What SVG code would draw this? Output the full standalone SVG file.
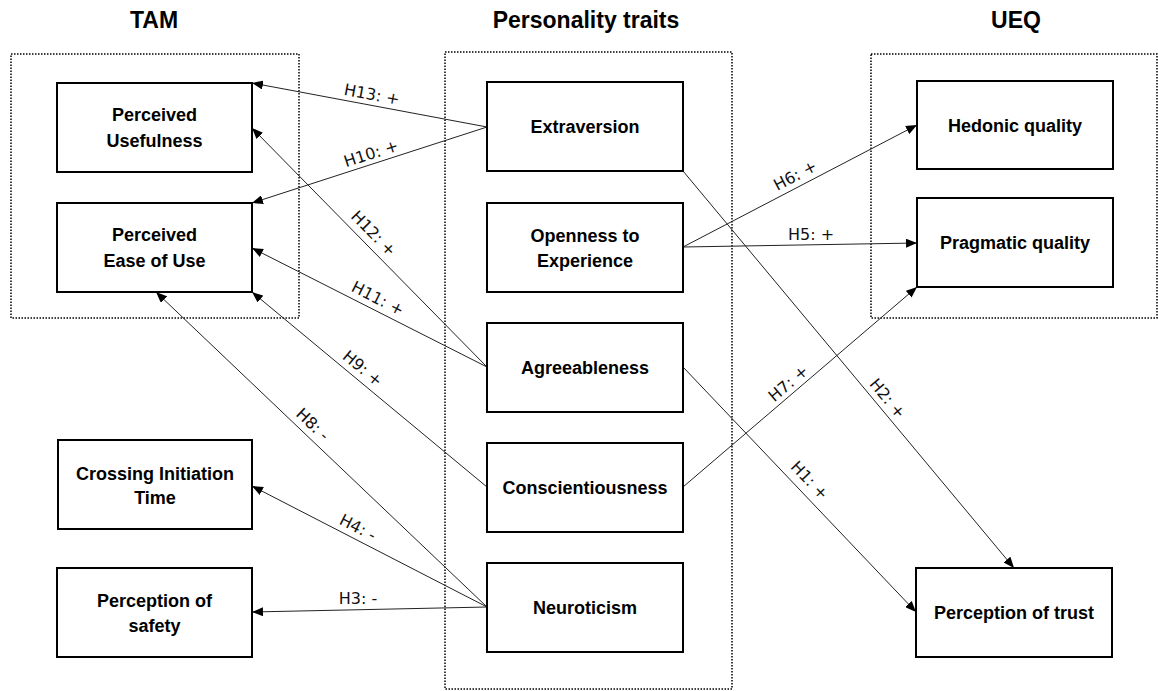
<svg xmlns="http://www.w3.org/2000/svg" width="1158" height="691" viewBox="0 0 1158 691">
<style>
.title{font-family:"Liberation Sans",Arial,sans-serif;font-weight:bold;font-size:23px;fill:#000;text-anchor:middle}
.node rect{fill:#fff;stroke:#000;stroke-width:2}
.node text{font-family:"Liberation Sans",Arial,sans-serif;font-weight:bold;font-size:18px;fill:#000;text-anchor:middle}
.group{fill:none;stroke:#000;stroke-width:1.5;stroke-dasharray:1.5 1.5}
.edge line{stroke:#222;stroke-width:1;marker-end:url(#arrow)}
.lbl{font-family:"DejaVu Sans",Verdana,sans-serif;font-size:16px;fill:#111;text-anchor:middle}
</style>
<defs>
<marker id="arrow" markerUnits="userSpaceOnUse" markerWidth="11" markerHeight="9" refX="11" refY="4.5" orient="auto">
<path d="M0,0 L11,4.5 L0,9 z" fill="#000"/>
</marker>
</defs>
<rect width="1158" height="691" fill="#fff"/>
<g id="titles">
<text class="title" x="154" y="28">TAM</text>
<text class="title" x="586" y="28">Personality traits</text>
<text class="title" x="1016" y="28">UEQ</text>
</g>
<g id="groups">
<rect class="group" x="11" y="54" width="288" height="264"/>
<rect class="group" x="445" y="52" width="287" height="637"/>
<rect class="group" x="871" y="54" width="286" height="264"/>
</g>
<g id="edges">
<g class="edge" id="e-h13"><line x1="487" y1="127" x2="252" y2="83"/></g>
<g class="edge" id="e-h10"><line x1="487" y1="127" x2="252" y2="203"/></g>
<g class="edge" id="e-h12"><line x1="487" y1="367" x2="252" y2="128"/></g>
<g class="edge" id="e-h11"><line x1="487" y1="367" x2="252" y2="248"/></g>
<g class="edge" id="e-h9"><line x1="487" y1="487" x2="252" y2="292"/></g>
<g class="edge" id="e-h8"><line x1="487" y1="607" x2="156" y2="292"/></g>
<g class="edge" id="e-h4"><line x1="487" y1="607" x2="252" y2="486"/></g>
<g class="edge" id="e-h3"><line x1="487" y1="607" x2="252" y2="612"/></g>
<g class="edge" id="e-h6"><line x1="683" y1="247" x2="917" y2="125"/></g>
<g class="edge" id="e-h5"><line x1="683" y1="247" x2="917" y2="243"/></g>
<g class="edge" id="e-h7"><line x1="683" y1="487" x2="917" y2="287"/></g>
<g class="edge" id="e-h2"><line x1="683" y1="171" x2="1014" y2="568"/></g>
<g class="edge" id="e-h1"><line x1="683" y1="367" x2="916" y2="612"/></g>
<g id="edge-labels">
<text class="lbl" transform="translate(372,94) rotate(10.6)" x="0" y="6">H13: +</text>
<text class="lbl" transform="translate(371,153) rotate(-17.9)" x="0" y="6">H10: +</text>
<text class="lbl" transform="translate(374,233) rotate(45.5)" x="0" y="6">H12: +</text>
<text class="lbl" transform="translate(378,298) rotate(26.9)" x="0" y="6">H11: +</text>
<text class="lbl" transform="translate(363,368) rotate(39.7)" x="0" y="6">H9: +</text>
<text class="lbl" transform="translate(313,424) rotate(43.5)" x="0" y="6">H8: -</text>
<text class="lbl" transform="translate(358,527) rotate(27)" x="0" y="6">H4: -</text>
<text class="lbl" transform="translate(358,598)" x="0" y="6">H3: -</text>
<text class="lbl" transform="translate(795,175) rotate(-27.5)" x="0" y="6">H6: +</text>
<text class="lbl" transform="translate(811,234)" x="0" y="6">H5: +</text>
<text class="lbl" transform="translate(788,383) rotate(-40.5)" x="0" y="6">H7: +</text>
<text class="lbl" transform="translate(888,398) rotate(50.2)" x="0" y="6">H2: +</text>
<text class="lbl" transform="translate(810,480) rotate(46.4)" x="0" y="6">H1: +</text>
</g>
</g>
<g class="node" id="perceived-usefulness"><rect x="57" y="83" width="195" height="89"/><text x="154.5" y="121">Perceived</text><text x="154.5" y="147">Usefulness</text></g>
<g class="node" id="perceived-ease"><rect x="57" y="203" width="195" height="89"/><text x="154.5" y="241">Perceived</text><text x="154.5" y="267">Ease of Use</text></g>
<g class="node" id="crossing"><rect x="58" y="440" width="194" height="89"/><text x="155" y="480">Crossing Initiation</text><text x="155" y="504">Time</text></g>
<g class="node" id="safety"><rect x="57" y="568" width="195" height="89"/><text x="154.5" y="607">Perception of</text><text x="154.5" y="632">safety</text></g>
<g class="node" id="extraversion"><rect x="487" y="82" width="196" height="89"/><text x="585" y="133">Extraversion</text></g>
<g class="node" id="openness"><rect x="487" y="203" width="196" height="89"/><text x="585" y="242">Openness to</text><text x="585" y="267">Experience</text></g>
<g class="node" id="agreeableness"><rect x="487" y="323" width="196" height="89"/><text x="585" y="374">Agreeableness</text></g>
<g class="node" id="conscientiousness"><rect x="487" y="443" width="196" height="89"/><text x="585" y="494">Conscientiousness</text></g>
<g class="node" id="neuroticism"><rect x="487" y="563" width="196" height="89"/><text x="585" y="614">Neuroticism</text></g>
<g class="node" id="hedonic"><rect x="917" y="81" width="196" height="88"/><text x="1015" y="132">Hedonic quality</text></g>
<g class="node" id="pragmatic"><rect x="917" y="198" width="196" height="89"/><text x="1015" y="249">Pragmatic quality</text></g>
<g class="node" id="trust"><rect x="916" y="568" width="196" height="89"/><text x="1014" y="619">Perception of trust</text></g>
</svg>
